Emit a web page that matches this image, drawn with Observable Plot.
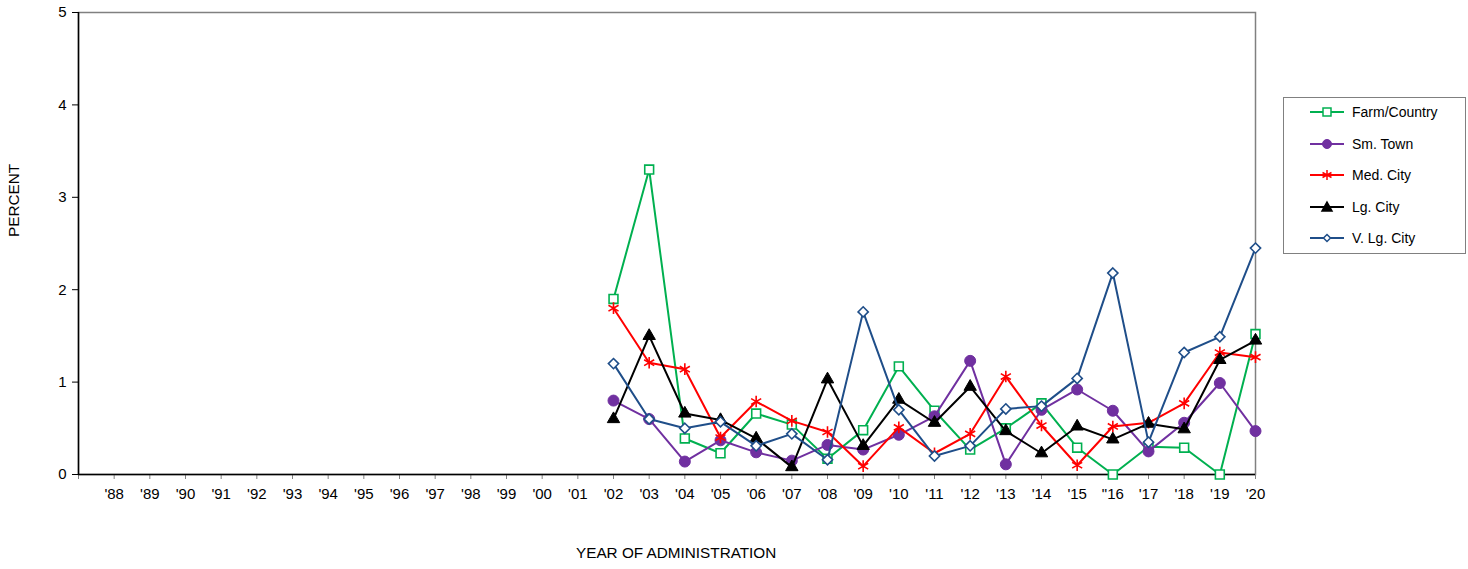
<!DOCTYPE html>
<html>
<head>
<meta charset="utf-8">
<script src="https://cdn.jsdelivr.net/npm/d3@7"></script>
<script src="https://cdn.jsdelivr.net/npm/@observablehq/plot@0.6"></script>
<style>
  html, body { margin: 0; padding: 0; background: #fff; }
  body { font-family: "Liberation Sans", Arial, sans-serif; }
  #wrap { position: relative; width: 1468px; height: 569px; }
  .lbl { position: absolute; font-size: 15.3px; color: #000; white-space: nowrap; }
  #legend { position: absolute; left: 1283px; top: 97px; width: 181px; height: 155px; border: 1px solid #808080; background: #fff; }
  .item { position: absolute; left: 0; height: 20px; display: flex; align-items: center; font-size: 14px; }
  .item svg { margin-left: 26px; margin-right: 8px; }
</style>
</head>
<body>
<div id="wrap"></div>
<script>
const years = [2002, 2003, 2004, 2005, 2006, 2007, 2008, 2009, 2010, 2011, 2012, 2013, 2014, 2015, 2016, 2017, 2018, 2019, 2020];
const tickYears = d3.range(1987, 2021);
const tickLabels = ["", "'88", "'89", "'90", "'91", "'92", "'93", "'94", "'95", "'96", "'97", "'98", "'99", "'00", "'01",
  "'02", "'03", "'04", "'05", "'06", "'07", "'08", "'09", "'10", "'11", "'12", "'13", "'14", "'15", "\"16", "'17", "'18", "'19", "'20"];

const farmCountry = [1.90, 3.30, 0.39, 0.23, 0.66, 0.54, 0.17, 0.48, 1.17, 0.69, 0.27, 0.50, 0.77, 0.29, 0.00, 0.30, 0.29, 0.00, 1.52];
const smTown      = [0.80, 0.60, 0.14, 0.37, 0.24, 0.15, 0.32, 0.27, 0.43, 0.63, 1.23, 0.11, 0.70, 0.92, 0.69, 0.25, 0.56, 0.99, 0.47];
const medCity     = [1.80, 1.21, 1.14, 0.40, 0.79, 0.58, 0.46, 0.09, 0.51, 0.23, 0.44, 1.06, 0.53, 0.10, 0.52, 0.56, 0.77, 1.32, 1.27];
const lgCity      = [0.60, 1.50, 0.66, 0.59, 0.39, 0.08, 1.03, 0.31, 0.81, 0.56, 0.95, 0.47, 0.23, 0.52, 0.38, 0.55, 0.49, 1.24, 1.45];
const vLgCity     = [1.20, 0.60, 0.50, 0.57, 0.31, 0.44, 0.16, 1.76, 0.70, 0.20, 0.31, 0.71, 0.74, 1.04, 2.18, 0.35, 1.32, 1.49, 2.45];

const seriesNames = ["Farm/Country", "Sm. Town", "Med. City", "Lg. City", "V. Lg. City"];
const seriesValues = [farmCountry, smTown, medCity, lgCity, vLgCity];
const seriesColors = ["#00B050", "#7030A0", "#FF0000", "#000000", "#1F4E89"];
const seriesSymbols = ["square", "circle", "asterisk", "triangle", "diamond2"];
const seriesFilled = [false, true, false, true, false];
const seriesR = [5, 5.5, 5.5, 4.6, 4.6];

const yTicks = [0, 1, 2, 3, 4, 5];

const rows = seriesNames.map((name, i) => years.map((yr, j) => ({series: name, year: yr, value: seriesValues[i][j]})));

const marks = [
  Plot.frame({stroke: "#808080", strokeWidth: 1.5}),
  Plot.axisY({ticks: yTicks, tickSize: 6, tickPadding: 6, fontSize: 15, label: null, stroke: "#000", tickFormat: d3.format("d")}),
  Plot.axisX({ticks: tickYears, tickSize: 5, tickPadding: 9, fontSize: 15, label: null, stroke: "#808080",
    tickFormat: d => tickLabels[tickYears.indexOf(d)]}),
  Plot.ruleX([1987], {stroke: "#000", strokeWidth: 1.5}),
  Plot.ruleY([0], {stroke: "#000", strokeWidth: 1.5})
];
rows.forEach((data, i) => {
  marks.push(Plot.line(data, {x: "year", y: "value", stroke: seriesColors[i], strokeWidth: 2}));
  marks.push(Plot.dot(data, {x: "year", y: "value", symbol: () => seriesSymbols[i], r: seriesR[i],
    stroke: seriesColors[i], strokeWidth: seriesFilled[i] ? 1 : 1.6,
    fill: seriesFilled[i] ? seriesColors[i] : "white"}));
});

const chart = Plot.plot({
  width: 1468,
  height: 569,
  marginLeft: 78,
  marginRight: 213,
  marginTop: 12,
  marginBottom: 95,
  style: {fontFamily: "'Liberation Sans', Arial, sans-serif", fontSize: "15px", background: "white", color: "#000"},
  x: {type: "linear", domain: [1987, 2020]},
  y: {domain: [0, 5]},
  symbol: {type: "identity"},
  marks
});

const wrap = document.getElementById("wrap");
wrap.appendChild(chart);

const yl = document.createElement("div");
yl.className = "lbl";
yl.textContent = "PERCENT";
yl.style.left = "-21px";
yl.style.top = "193px";
yl.style.transform = "rotate(-90deg)";
yl.style.width = "70px";
yl.style.textAlign = "center";
wrap.appendChild(yl);

const xl = document.createElement("div");
xl.className = "lbl";
xl.textContent = "YEAR OF ADMINISTRATION";
xl.style.left = "576px";
xl.style.top = "544px";
wrap.appendChild(xl);

const legend = document.createElement("div");
legend.id = "legend";
const symPaths = {
  square: "M-4,-4h8v8h-8z",
  circle: null,
  asterisk: "M0,-5V5M-4.5,-2.5L4.5,2.5M-4.5,2.5L4.5,-2.5",
  triangle: "M0,-5L5,4H-5Z",
  diamond2: "M0,-3.5L3.5,0L0,3.5L-3.5,0Z"
};
seriesNames.forEach((name, i) => {
  const it = document.createElement("div");
  it.className = "item";
  it.style.top = (4 + i * 31.5) + "px";
  const c = seriesColors[i];
  const s = seriesSymbols[i];
  let sym;
  if (s === "circle") sym = `<circle cx="0" cy="0" r="4.5" fill="${c}" stroke="${c}"/>`;
  else sym = `<path d="${symPaths[s]}" fill="${seriesFilled[i] ? c : "white"}" stroke="${c}" stroke-width="1.5"/>`;
  it.innerHTML = `<svg width="34" height="14" viewBox="-17 -7 34 14"><line x1="-17" x2="17" y1="0" y2="0" stroke="${c}" stroke-width="2"/>${sym}</svg><span>${name}</span>`;
  legend.appendChild(it);
});
wrap.appendChild(legend);
</script>
</body>
</html>
